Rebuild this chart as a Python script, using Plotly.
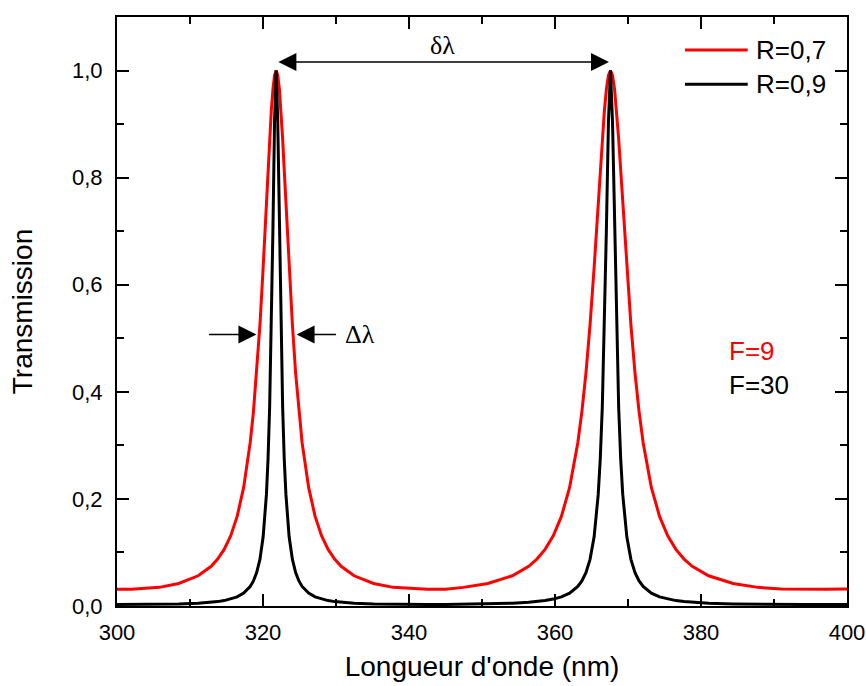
import plotly.graph_objects as go

# Wavelength samples (nm)
wavelength = [300, 302, 305.78, 308.45, 311.12, 312.9, 313.79, 314.68, 315.57, 316.46, 317.35,
              318.24, 318.69, 319.13, 319.58, 320.02, 320.47, 320.69, 320.91, 321.13, 321.36,
              321.58, 321.8, 322.02, 322.25, 322.47, 322.69, 322.91, 323.14, 323.58, 324.03,
              324.47, 324.92, 325.36, 326.25, 327.14, 328.03, 328.92, 329.81, 330.7, 332.48,
              335.15, 337.82, 340, 342.5, 345, 347.44, 350.8, 354.16, 356.4, 357.52, 358.64,
              359.76, 360.88, 362.0, 363.12, 363.68, 364.24, 364.8, 365.36, 365.92, 366.2,
              366.48, 366.76, 367.04, 367.32, 367.6, 367.88, 368.16, 368.44, 368.72, 369.0,
              369.28, 369.84, 370.4, 370.96, 371.52, 372.08, 373.2, 374.32, 375.44, 376.56,
              377.68, 378.8, 381.04, 384.4, 387.76, 391, 394, 397, 400]

# Transmission, R = 0.7 (red)
trans_r07 = [0.0313, 0.0312, 0.0348, 0.0420, 0.0564, 0.0742, 0.0876, 0.1057, 0.1310, 0.1673, 0.2214,
             0.3046, 0.3626, 0.4351, 0.5248, 0.6322, 0.7529, 0.814, 0.8725, 0.924, 0.965,
             0.991, 1.0, 0.991, 0.965, 0.924, 0.8725, 0.814, 0.7529, 0.6322, 0.5248,
             0.4351, 0.3626, 0.3046, 0.2214, 0.1673, 0.1310, 0.1057, 0.0876, 0.0742, 0.0564,
             0.0420, 0.0348, 0.0325, 0.0312, 0.0315, 0.0348, 0.0420, 0.0564, 0.0742, 0.0876, 0.1057,
             0.1310, 0.1673, 0.2214, 0.3046, 0.3626, 0.4351, 0.5248, 0.6322, 0.7529, 0.814,
             0.8725, 0.924, 0.965, 0.991, 1.0, 0.991, 0.965, 0.924, 0.8725, 0.814,
             0.7529, 0.6322, 0.5248, 0.4351, 0.3626, 0.3046, 0.2214, 0.1673, 0.1310, 0.1057,
             0.0876, 0.0742, 0.0564, 0.0420, 0.0348, 0.0318, 0.0312, 0.0313, 0.0316]

# Transmission, R = 0.9 (black)
trans_r09 = [0.0028, 0.0028, 0.0031, 0.0038, 0.0051, 0.0069, 0.0082, 0.0101, 0.0129, 0.0171, 0.0240,
             0.0365, 0.0468, 0.0624, 0.0871, 0.1293, 0.2084, 0.2746, 0.3716, 0.512, 0.703,
             0.904, 1.0, 0.904, 0.703, 0.512, 0.3716, 0.2746, 0.2084, 0.1293, 0.0871,
             0.0624, 0.0468, 0.0365, 0.0240, 0.0171, 0.0129, 0.0101, 0.0082, 0.0069, 0.0051,
             0.0038, 0.0031, 0.0029, 0.0028, 0.0028, 0.0031, 0.0038, 0.0051, 0.0069, 0.0082, 0.0101,
             0.0129, 0.0171, 0.0240, 0.0365, 0.0468, 0.0624, 0.0871, 0.1293, 0.2084, 0.2746,
             0.3716, 0.512, 0.703, 0.904, 1.0, 0.904, 0.703, 0.512, 0.3716, 0.2746,
             0.2084, 0.1293, 0.0871, 0.0624, 0.0468, 0.0365, 0.0240, 0.0171, 0.0129, 0.0101,
             0.0082, 0.0069, 0.0051, 0.0038, 0.0031, 0.0029, 0.0028, 0.0028, 0.0029]

series_names = ["R=0,7", "R=0,9"]
series_colors = ["#ff0000", "#000000"]
finesse_labels = ["F=9", "F=30"]

# annotation anchors (data units)
peak_left, peak_right, arrow_y = 321.9, 367.4, 1.016
fwhm_left_tip, fwhm_left_tail = 319.1, 312.4
fwhm_right_tip, fwhm_right_tail = 324.6, 330.2
fwhm_y = 0.507

SANS = "Arial, Liberation Sans, sans-serif"
SERIF = "Times New Roman, Liberation Serif, serif"

fig = go.Figure()
for ys, name, col in zip([trans_r07, trans_r09], series_names, series_colors):
    fig.add_trace(go.Scatter(x=wavelength, y=ys, mode="lines", name=name,
                             line=dict(color=col, width=3), showlegend=False))

tick_common = dict(ticks="inside", ticklen=12, tickwidth=2, tickcolor="black",
                   showgrid=False, zeroline=False, automargin=False)

fig.update_layout(
    xaxis=dict(range=[300, 400], dtick=20, tick0=300,
               showline=True, linewidth=2, linecolor="black",
               minor=dict(ticks="inside", ticklen=7, tickwidth=2, dtick=10, tickcolor="black", showgrid=False),
               title=dict(text="Longueur d'onde (nm)", font=dict(family=SANS, size=28, color="black"), standoff=12),
               tickfont=dict(family=SANS, size=22, color="black"), ticklabelstandoff=6,
               **tick_common),
    yaxis=dict(range=[0, 1.1], dtick=0.2, tick0=0, tickformat=".1f",
               showline=True, linewidth=2, linecolor="black",
               minor=dict(ticks="inside", ticklen=7, tickwidth=2, dtick=0.1, tickcolor="black", showgrid=False),
               title=dict(text="Transmission", font=dict(family=SANS, size=28, color="black"), standoff=31),
               tickfont=dict(family=SANS, size=22, color="black"), ticklabelstandoff=8,
               **tick_common),
    xaxis2=dict(range=[300, 400], dtick=20, tick0=300, overlaying="x", side="top", matches="x",
                showline=True, linewidth=2, linecolor="black", showticklabels=False,
                minor=dict(ticks="inside", ticklen=7, tickwidth=2, dtick=10, tickcolor="black", showgrid=False),
                **tick_common),
    yaxis2=dict(range=[0, 1.1], dtick=0.2, tick0=0, overlaying="y", side="right", matches="y",
                showline=True, linewidth=2, linecolor="black", showticklabels=False,
                minor=dict(ticks="inside", ticklen=7, tickwidth=2, dtick=0.1, tickcolor="black", showgrid=False),
                **tick_common),
)
# invisible trace to activate the mirror axes
fig.add_trace(go.Scatter(x=[wavelength[0]], y=[trans_r07[0]], xaxis="x2", yaxis="y2",
                         mode="markers", marker=dict(opacity=0), showlegend=False, hoverinfo="skip"))

annotations = [
    dict(x=peak_right, y=arrow_y, ax=peak_left, ay=arrow_y, xref="x", yref="y", axref="x", ayref="y",
         text="", showarrow=True, arrowhead=2, arrowside="end+start", arrowsize=2.4, arrowwidth=1.5,
         arrowcolor="black"),
    dict(x=(peak_left + peak_right) / 2, y=arrow_y, xref="x", yref="y", text="δλ", showarrow=False,
         yanchor="bottom", yshift=0, font=dict(family=SERIF, size=26, color="black")),
    dict(x=fwhm_left_tip, y=fwhm_y, ax=fwhm_left_tail, ay=fwhm_y, xref="x", yref="y", axref="x", ayref="y",
         text="", showarrow=True, arrowhead=2, arrowsize=2.4, arrowwidth=1.5, arrowcolor="black"),
    dict(x=fwhm_right_tip, y=fwhm_y, ax=fwhm_right_tail, ay=fwhm_y, xref="x", yref="y", axref="x", ayref="y",
         text="", showarrow=True, arrowhead=2, arrowsize=2.4, arrowwidth=1.5, arrowcolor="black"),
    dict(x=fwhm_right_tail, y=fwhm_y, xref="x", yref="y", text="Δλ", showarrow=False,
         xanchor="left", xshift=6, font=dict(family=SERIF, size=26, color="black")),
]

# manual legend (paper coords)
legend_y = [0.944, 0.886]
shapes = []
for ly, name, col in zip(legend_y, series_names, series_colors):
    shapes.append(dict(type="line", xref="paper", yref="paper", x0=0.778, x1=0.864, y0=ly, y1=ly,
                       line=dict(color=col, width=3)))
    annotations.append(dict(x=0.872, y=ly, xref="paper", yref="paper", text=name, showarrow=False,
                            xanchor="left", yanchor="middle", font=dict(family=SANS, size=26, color="black")))

for fy, lab, col in zip([0.433, 0.375], finesse_labels, series_colors):
    annotations.append(dict(x=0.836, y=fy, xref="paper", yref="paper", text=lab, showarrow=False,
                            xanchor="left", yanchor="middle", font=dict(family=SANS, size=26, color=col)))

fig.update_layout(width=866, height=686, margin=dict(l=117, r=19, t=17, b=80),
                  paper_bgcolor="white", plot_bgcolor="white", separators=",.",
                  annotations=annotations, shapes=shapes, showlegend=False)

fig.write_html("out.html", config={"displayModeBar": False},
               post_script="document.body.style.margin='0';document.body.style.padding='0';"
                           "document.body.style.overflow='hidden';")
